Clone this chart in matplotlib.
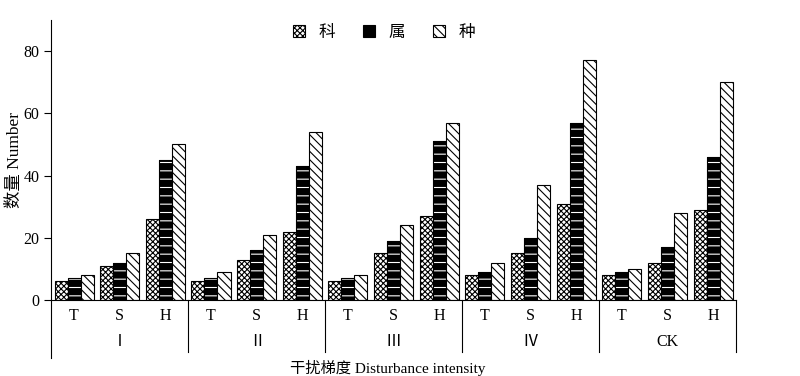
import numpy as np
import matplotlib
matplotlib.use('Agg')
import matplotlib.pyplot as plt
from matplotlib.patches import Patch

plt.rcParams['font.family'] = ['Liberation Serif', 'Noto Sans CJK SC']
plt.rcParams['hatch.linewidth'] = 0.8

groups = ['Ⅰ', 'Ⅱ', 'Ⅲ', 'Ⅳ', 'CK']
layers = ['T', 'S', 'H']
series_names = ['科', '属', '种']

# values per group, ordered T, S, H
family = [6, 11, 26, 6, 13, 22, 6, 15, 27, 8, 15, 31, 8, 12, 29]
genus = [7, 12, 45, 7, 16, 43, 7, 19, 51, 9, 20, 57, 9, 17, 46]
species = [8, 15, 50, 9, 21, 54, 8, 24, 57, 12, 37, 77, 10, 28, 70]

fig = plt.figure(figsize=(8, 3.76), dpi=100)
ax = fig.add_axes([0.064, 0.202, 0.856, 0.745])

x = np.arange(len(family)) + 0.5
w = 0.285

b1 = ax.bar(x - w, family, w, facecolor='white', edgecolor='black', hatch='xxxxxx', linewidth=0.8)
# black bars with white dashes: hatch drawn white, then black outline on top
ax.bar(x, genus, w, facecolor='black', edgecolor='white', hatch='--', linewidth=0)
ax.bar(x, genus, w, facecolor='none', edgecolor='black', linewidth=0.8)
b3 = ax.bar(x + w, species, w, facecolor='white', edgecolor='black', hatch='\\\\\\\\', linewidth=0.8)

h2 = Patch(facecolor='black', edgecolor='black', linewidth=0.8)
ax.legend([b1, h2, b3], series_names, ncol=3, frameon=False,
          loc='center', bbox_to_anchor=(0.486, 0.954),
          handlelength=0.7, handleheight=0.7, handletextpad=0.8,
          columnspacing=1.7, fontsize=12)

ax.set_xlim(0, 15)
ax.set_ylim(0, 90)
ax.set_yticks([0, 20, 40, 60, 80])
ax.tick_params(axis='y', labelsize=11.5, direction='out', length=5, width=0.8)
ax.tick_params(axis='x', bottom=False, labelbottom=False)
for s in ['top', 'right']:
    ax.spines[s].set_visible(False)
ax.spines['left'].set_linewidth(0.8)
ax.spines['bottom'].set_linewidth(0.8)

trans = ax.get_xaxis_transform()
# extend left spine below the axis
ax.plot([0, 0], [0, -0.207], transform=trans, color='black', lw=0.8, clip_on=False)
for i in range(1, len(groups) + 1):
    ax.plot([i * 3, i * 3], [0, -0.186], transform=trans, color='black', lw=0.8, clip_on=False)

for i, xi in enumerate(x):
    ax.text(xi, -0.057, layers[i % 3], transform=trans, ha='center', va='center', fontsize=11.5)
for g, name in enumerate(groups):
    ax.text(g * 3 + 1.5, -0.15, name, transform=trans, ha='center', va='center', fontsize=11.5)

fig.text(0.484, 0.022, '干扰梯度 Disturbance intensity', ha='center', va='center', fontsize=11)
fig.text(0.019, 0.575, '数量 Number', ha='center', va='center', rotation=90, fontsize=12.5)

fig.savefig('out.png', dpi=100)
